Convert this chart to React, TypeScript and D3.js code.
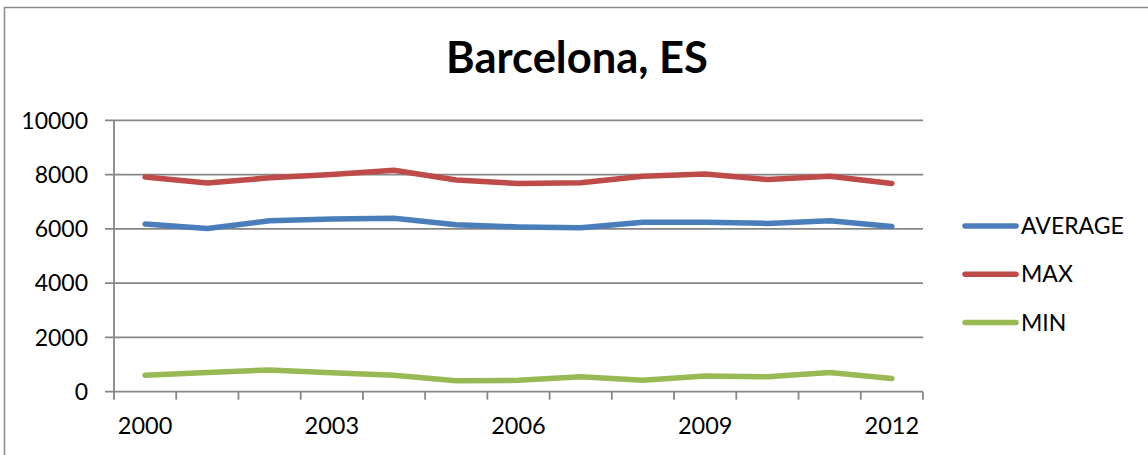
import React from "react";
import * as d3 from "d3";

// Yearly series for Barcelona
const years = ["2000", "2001", "2002", "2003", "2004", "2005", "2006", "2007", "2008", "2009", "2010", "2011", "2012"];
const averageValues = [6180, 6010, 6300, 6360, 6390, 6150, 6070, 6040, 6240, 6240, 6200, 6300, 6090];
const maxValues = [7910, 7690, 7880, 8000, 8160, 7800, 7670, 7700, 7940, 8020, 7820, 7940, 7670];
const minValues = [610, 710, 800, 700, 610, 400, 420, 550, 420, 580, 550, 710, 490];
const yTickValues = [0, 2000, 4000, 6000, 8000, 10000];
const xLabelYears = ["2000", "2003", "2006", "2009", "2012"];
const seriesNames = ["AVERAGE", "MAX", "MIN"];
const seriesColors = ["#4A7EBB", "#BE4B48", "#98B954"];

const W = 1148;
const H = 455;
const plot = { left: 114, right: 923, top: 120.3, bottom: 391.7 };
const FONT = "Lato, 'Open Sans', 'Liberation Sans', sans-serif";
const AXIS = "#868686";

export default function App() {
  const x = d3.scaleBand<string>().domain(years).range([plot.left, plot.right]).padding(0);
  const y = d3.scaleLinear().domain([0, 10000]).range([plot.bottom, plot.top]);
  const cx = (yr: string) => (x(yr) as number) + x.bandwidth() / 2;

  const line = d3
    .line<number>()
    .x((_, i) => cx(years[i]))
    .y((v) => y(v));

  const series = [averageValues, maxValues, minValues];
  const edges = [...years.map((yr) => x(yr) as number), plot.right];

  return (
    <svg
      width={W}
      height={H}
      style={{ position: "absolute", left: 0, top: 0, display: "block", background: "#fff" }}
    >
      {/* outer frame */}
      <rect x={4.5} y={7.5} width={W + 10} height={H + 10} fill="none" stroke="#8a8a8a" strokeWidth={1.5} />

      <text
        x={577}
        y={73}
        textAnchor="middle"
        fontFamily={FONT}
        fontWeight={700}
        fontSize={43.5}
        fill="#000"
      >
        Barcelona, ES
      </text>

      {/* horizontal gridlines and y ticks */}
      {yTickValues.map((v) => (
        <g key={v}>
          <line x1={105} x2={plot.right} y1={y(v)} y2={y(v)} stroke={AXIS} strokeWidth={1.8} />
          <text
            x={88}
            y={y(v) + 8.3}
            textAnchor="end"
            fontFamily={FONT}
            fontSize={23}
            fill="#000"
          >
            {v}
          </text>
        </g>
      ))}

      {/* y axis */}
      <line x1={plot.left} x2={plot.left} y1={plot.top} y2={plot.bottom} stroke={AXIS} strokeWidth={1.8} />

      {/* x ticks at category edges */}
      {edges.map((ex, i) => (
        <line key={i} x1={ex} x2={ex} y1={plot.bottom} y2={plot.bottom + 8} stroke={AXIS} strokeWidth={1.8} />
      ))}

      {xLabelYears.map((yr) => (
        <text
          key={yr}
          x={cx(yr)}
          y={434}
          textAnchor="middle"
          fontFamily={FONT}
          fontSize={23.5}
          fill="#000"
        >
          {yr}
        </text>
      ))}

      {/* data lines */}
      {series.map((vals, i) => (
        <path
          key={seriesNames[i]}
          d={line(vals) || ""}
          fill="none"
          stroke={seriesColors[i]}
          strokeWidth={5.5}
          strokeLinecap="round"
          strokeLinejoin="round"
        />
      ))}

      {/* legend */}
      {seriesNames.map((name, i) => {
        const ly = 226 + i * 48.3;
        return (
          <g key={name}>
            <line x1={965} x2={1016} y1={ly} y2={ly} stroke={seriesColors[i]} strokeWidth={5.5} strokeLinecap="round" />
            <text x={1021} y={ly + 8} fontFamily={FONT} fontSize={23} fill="#000">
              {name}
            </text>
          </g>
        );
      })}
    </svg>
  );
}
